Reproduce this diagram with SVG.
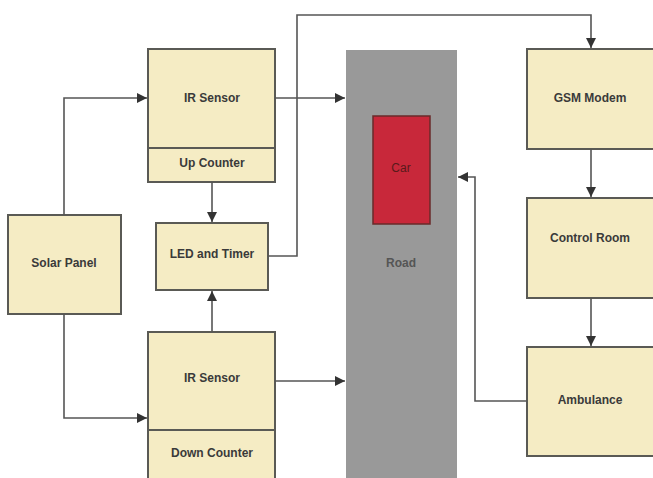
<svg xmlns="http://www.w3.org/2000/svg" width="653" height="478" viewBox="0 0 653 478">
<style>
.box{fill:#f5ecc4;stroke:#5a5a55;stroke-width:2}
.t{font-family:"Liberation Sans",Arial,sans-serif;font-size:12px;font-weight:bold;fill:#3a3a3a;text-anchor:middle;dominant-baseline:central}
.c{fill:none;stroke:#555;stroke-width:1.6}
</style>
<defs>
<marker id="ah" viewBox="0 0 10 10" refX="10" refY="5" markerWidth="10" markerHeight="10" markerUnits="userSpaceOnUse" orient="auto">
<path d="M0,0 L10,5 L0,10 z" fill="#333"/>
</marker>
</defs>
<rect width="653" height="478" fill="#ffffff"/>
<g id="road">
<rect x="346" y="50" width="111" height="430" fill="#999999"/>
<text class="t" x="401" y="263" style="fill:#555">Road</text>
</g>
<g id="car">
<rect x="373" y="116" width="57" height="108" fill="#c8283a" stroke="#6a2a2a" stroke-width="1.5"/>
<text class="t" x="401" y="168" style="fill:#5a1a1a;font-weight:normal">Car</text>
</g>
<g id="solar">
<rect class="box" x="8" y="215" width="113" height="99"/>
<text class="t" x="64" y="263">Solar Panel</text>
</g>
<g id="ir-up">
<rect class="box" x="148" y="49" width="127" height="99"/>
<text class="t" x="212" y="98">IR Sensor</text>
<rect class="box" x="148" y="148" width="127" height="34"/>
<text class="t" x="212" y="163">Up Counter</text>
</g>
<g id="led">
<rect class="box" x="156" y="223" width="112" height="67"/>
<text class="t" x="212" y="254">LED and Timer</text>
</g>
<g id="ir-down">
<rect class="box" x="148" y="332" width="127" height="98"/>
<text class="t" x="212" y="378">IR Sensor</text>
<rect class="box" x="148" y="430" width="127" height="52"/>
<text class="t" x="212" y="453">Down Counter</text>
</g>
<g id="gsm">
<rect class="box" x="527" y="49" width="127" height="100"/>
<text class="t" x="590" y="98">GSM Modem</text>
</g>
<g id="control">
<rect class="box" x="527" y="198" width="127" height="100"/>
<text class="t" x="590" y="238">Control Room</text>
</g>
<g id="ambulance">
<rect class="box" x="527" y="347" width="127" height="109"/>
<text class="t" x="590" y="400">Ambulance</text>
</g>
<g id="connectors">
<path class="c" d="M64,215 V98 H147" marker-end="url(#ah)"/>
<path class="c" d="M64,314 V418 H147" marker-end="url(#ah)"/>
<path class="c" d="M212,182 V222" marker-end="url(#ah)"/>
<path class="c" d="M212,332 V291" marker-end="url(#ah)"/>
<path class="c" d="M275,98 H345" marker-end="url(#ah)"/>
<path class="c" d="M275,381 H345" marker-end="url(#ah)"/>
<path class="c" d="M268,256 H297 V15 H591 V48" marker-end="url(#ah)"/>
<path class="c" d="M591,149 V197" marker-end="url(#ah)"/>
<path class="c" d="M591,298 V346" marker-end="url(#ah)"/>
<path class="c" d="M527,401 H475 V177 H458" marker-end="url(#ah)"/>
</g>
</svg>
